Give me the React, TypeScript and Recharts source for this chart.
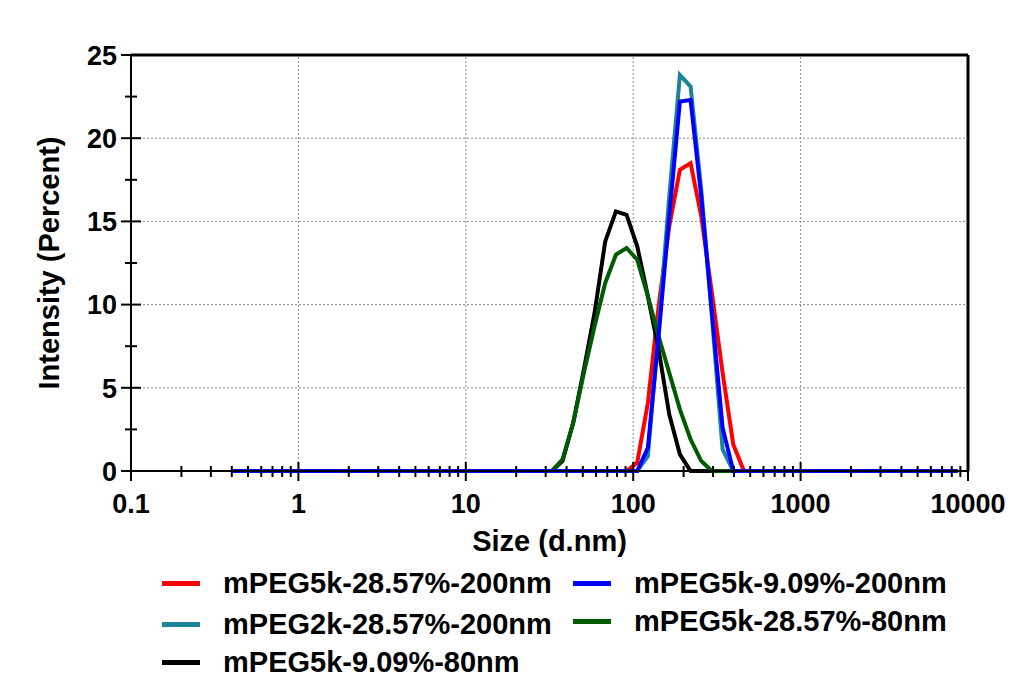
import React from 'react';
import { LineChart, Line, XAxis, YAxis, ReferenceLine, Label } from 'recharts';

// size classes (d.nm) of the instrument
const sizes = [
  0.4, 0.4632, 0.5365, 0.6213, 0.7195, 0.8332, 0.9649, 1.117, 1.294, 1.499,
  1.736, 2.01, 2.328, 2.696, 3.122, 3.615, 4.187, 4.849, 5.615, 6.503,
  7.531, 8.721, 10.1, 11.7, 13.54, 15.69, 18.17, 21.04, 24.36, 28.21,
  32.67, 37.84, 43.82, 50.75, 58.77, 68.06, 78.82, 91.28, 105.7, 122.4,
  141.8, 164.2, 190.1, 220.2, 255, 295.3, 342, 396.1, 458.7, 531.2,
  615.1, 712.4, 825, 955.4, 1106, 1281, 1484, 1718, 1990, 2305,
  2669, 3091, 3580, 4145, 4801, 5560, 6439, 7456, 8635,
];

// intensity (%) per size class
const red5k2857_200 = [
  0, 0, 0, 0, 0, 0, 0, 0, 0, 0,
  0, 0, 0, 0, 0, 0, 0, 0, 0, 0,
  0, 0, 0, 0, 0, 0, 0, 0, 0, 0,
  0, 0, 0, 0, 0, 0, 0, 0, 0.5, 4.1,
  9.9, 14.7, 18.1, 18.5, 15.3, 10.7, 5.9, 1.6, 0, 0,
  0, 0, 0, 0, 0, 0, 0, 0, 0, 0,
  0, 0, 0, 0, 0, 0, 0, 0, 0,
];
const teal2k2857_200 = [
  0, 0, 0, 0, 0, 0, 0, 0, 0, 0,
  0, 0, 0, 0, 0, 0, 0, 0, 0, 0,
  0, 0, 0, 0, 0, 0, 0, 0, 0, 0,
  0, 0, 0, 0, 0, 0, 0, 0, 0, 0.9,
  8.5, 16.5, 23.8, 23.1, 16.9, 9.3, 1.3, 0, 0, 0,
  0, 0, 0, 0, 0, 0, 0, 0, 0, 0,
  0, 0, 0, 0, 0, 0, 0, 0, 0,
];
const black5k909_80 = [
  0, 0, 0, 0, 0, 0, 0, 0, 0, 0,
  0, 0, 0, 0, 0, 0, 0, 0, 0, 0,
  0, 0, 0, 0, 0, 0, 0, 0, 0, 0,
  0, 0.6, 2.9, 6.1, 9.5, 13.8, 15.6, 15.4, 13.5, 10.5,
  7.3, 3.4, 1.0, 0, 0, 0, 0, 0, 0, 0,
  0, 0, 0, 0, 0, 0, 0, 0, 0, 0,
  0, 0, 0, 0, 0, 0, 0, 0, 0,
];
const green5k2857_80 = [
  0, 0, 0, 0, 0, 0, 0, 0, 0, 0,
  0, 0, 0, 0, 0, 0, 0, 0, 0, 0,
  0, 0, 0, 0, 0, 0, 0, 0, 0, 0,
  0, 0.7, 2.9, 5.9, 8.7, 11.3, 13.0, 13.4, 12.7, 10.5,
  8.1, 5.9, 3.7, 1.9, 0.6, 0, 0, 0, 0, 0,
  0, 0, 0, 0, 0, 0, 0, 0, 0, 0,
  0, 0, 0, 0, 0, 0, 0, 0, 0,
];
const blue5k909_200 = [
  0, 0, 0, 0, 0, 0, 0, 0, 0, 0,
  0, 0, 0, 0, 0, 0, 0, 0, 0, 0,
  0, 0, 0, 0, 0, 0, 0, 0, 0, 0,
  0, 0, 0, 0, 0, 0, 0, 0, 0, 1.4,
  8.1, 15.3, 22.2, 22.3, 16.5, 9.5, 2.6, 0, 0, 0,
  0, 0, 0, 0, 0, 0, 0, 0, 0, 0,
  0, 0, 0, 0, 0, 0, 0, 0, 0,
];

const majorX = [0.1, 1, 10, 100, 1000, 10000];
const minorX = [
  0.2, 0.3, 0.4, 0.5, 0.6, 0.7, 0.8, 0.9,
  2, 3, 4, 5, 6, 7, 8, 9,
  20, 30, 40, 50, 60, 70, 80, 90,
  200, 300, 400, 500, 600, 700, 800, 900,
  2000, 3000, 4000, 5000, 6000, 7000, 8000, 9000,
];
const majorY = [0, 5, 10, 15, 20, 25];
const minorY = [2.5, 7.5, 12.5, 17.5, 22.5];

// drawing order matters: blue ends up on top
const series = [
  { key: 'red', name: 'mPEG5k-28.57%-200nm', color: '#ff0000', values: red5k2857_200 },
  { key: 'teal', name: 'mPEG2k-28.57%-200nm', color: '#1d8399', values: teal2k2857_200 },
  { key: 'black', name: 'mPEG5k-9.09%-80nm', color: '#000000', values: black5k909_80 },
  { key: 'green', name: 'mPEG5k-28.57%-80nm', color: '#005c00', values: green5k2857_80 },
  { key: 'blue', name: 'mPEG5k-9.09%-200nm', color: '#0000ff', values: blue5k909_200 },
];

// legend placement (left column / right column)
const legendSlots = [
  { key: 'red', left: 162, top: 583 },
  { key: 'blue', left: 573, top: 583 },
  { key: 'teal', left: 162, top: 624 },
  { key: 'green', left: 573, top: 621 },
  { key: 'black', left: 162, top: 662 },
];

const data = sizes.map((s, i) => {
  const row: Record<string, number> = { size: s };
  series.forEach((sr) => { row[sr.key] = sr.values[i]; });
  return row;
});

const FONT = '"Liberation Sans", Arial, sans-serif';

const XTick = (props: any) => {
  const { x, y, payload } = props;
  const major = majorX.includes(payload.value);
  return (
    <g>
      <line x1={x} x2={x} y1={major ? y - 9 : y - 5} y2={major ? y + 10 : y + 6} stroke="#000" strokeWidth={2} />
      {major && (
        <text x={x} y={y + 42} textAnchor="middle" fontFamily={FONT} fontWeight="bold" fontSize={27} fill="#000">
          {payload.value}
        </text>
      )}
    </g>
  );
};

const YTick = (props: any) => {
  const { x, y, payload } = props;
  const major = majorY.includes(payload.value);
  return (
    <g>
      <line x1={major ? x - 10 : x - 6} x2={major ? x + 10 : x + 6} y1={y} y2={y} stroke="#000" strokeWidth={2} />
      {major && (
        <text x={x - 14} y={y} dy="0.36em" textAnchor="end" fontFamily={FONT} fontWeight="bold" fontSize={27} fill="#000">
          {payload.value}
        </text>
      )}
    </g>
  );
};

export default function App() {
  return (
    <div style={{ position: 'absolute', left: 0, top: 0, width: 1034, height: 696, background: '#fff' }}>
      <LineChart
        width={1034}
        height={696}
        data={data}
        margin={{ top: 55, right: 66, left: 71, bottom: 185 }}
      >
        <XAxis
          dataKey="size"
          type="number"
          scale="log"
          domain={[0.1, 10000]}
          allowDataOverflow
          ticks={[...majorX, ...minorX].sort((a, b) => a - b)}
          interval={0}
          tickSize={0}
          tickMargin={0}
          tick={<XTick />}
          tickLine={false}
          axisLine={{ stroke: '#000', strokeWidth: 2 }}
          height={40}
        >
          <Label
            value="Size (d.nm)"
            position="bottom"
            offset={19}
            style={{ fontFamily: FONT, fontWeight: 'bold', fontSize: 29, fill: '#000' }}
          />
        </XAxis>
        <YAxis
          type="number"
          domain={[0, 25]}
          ticks={[...majorY, ...minorY].sort((a, b) => a - b)}
          interval={0}
          tickSize={0}
          tickMargin={0}
          tick={<YTick />}
          tickLine={false}
          axisLine={{ stroke: '#000', strokeWidth: 2 }}
          width={60}
        >
          <Label
            value="Intensity (Percent)"
            angle={-90}
            position="insideLeft"
            offset={-22}
            style={{ textAnchor: 'middle', fontFamily: FONT, fontWeight: 'bold', fontSize: 29, fill: '#000' }}
          />
        </YAxis>
        {[1, 10, 100, 1000].map((v) => (
          <ReferenceLine key={'gx' + v} x={v} stroke="#8a8a8a" strokeWidth={1} strokeDasharray="2 2" />
        ))}
        {[5, 10, 15, 20].map((v) => (
          <ReferenceLine key={'gy' + v} y={v} stroke="#8a8a8a" strokeWidth={1} strokeDasharray="2 2" />
        ))}
        <ReferenceLine y={25} stroke="#000" strokeWidth={3} />
        <ReferenceLine x={10000} stroke="#000" strokeWidth={3} />
        {series.map((sr) => (
          <Line
            key={sr.key}
            type="linear"
            dataKey={sr.key}
            stroke={sr.color}
            strokeWidth={4}
            dot={false}
            activeDot={false}
            isAnimationActive={false}
          />
        ))}
      </LineChart>
      {legendSlots.map((slot) => {
        const sr = series.find((s) => s.key === slot.key)!;
        return (
          <div
            key={slot.key}
            style={{ position: 'absolute', left: slot.left, top: slot.top - 20, height: 40, display: 'flex', alignItems: 'center' }}
          >
            <div style={{ width: 38, height: 5, background: sr.color }} />
            <span
              style={{
                marginLeft: 23,
                fontFamily: FONT,
                fontWeight: 'bold',
                fontSize: 29,
                color: '#000',
                whiteSpace: 'nowrap',
              }}
            >
              {sr.name}
            </span>
          </div>
        );
      })}
    </div>
  );
}
